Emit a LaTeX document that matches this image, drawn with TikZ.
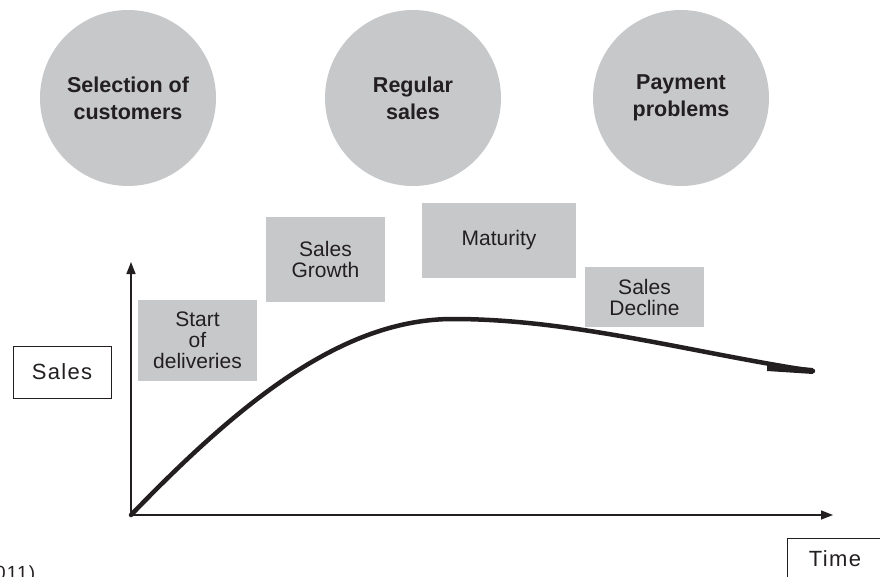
\documentclass[tikz,border=0pt]{standalone}
\usepackage{fontspec}
\setmainfont{Liberation Sans}
\newfontfamily\widefont[LetterSpace=6]{Liberation Sans}
\usetikzlibrary{shapes,arrows,arrows.meta}
\definecolor{phasegray}{RGB}{199,200,202}
\definecolor{inkblack}{RGB}{35,31,32}
\tikzstyle{stage} = [circle, minimum size=176pt, inner sep=0pt, fill=phasegray, text=inkblack, align=center, font=\fontsize{21.5}{27}\selectfont\bfseries]
\tikzstyle{phase} = [rectangle, inner sep=0pt, fill=phasegray, text=inkblack, align=center, font=\fontsize{21}{21}\selectfont]
\tikzstyle{axislabel} = [rectangle, draw=inkblack, line width=1pt, inner sep=0pt, text=inkblack, font=\widefont\fontsize{22}{24}\selectfont]
\tikzstyle{axisline} = [line width=1.5pt, draw=inkblack, -{Triangle[length=12pt,width=9pt]}]
\tikzstyle{salescurve} = [line width=4.5pt, draw=inkblack, line cap=round]

\begin{document}
\begin{tikzpicture}[x=1pt, y=-1pt]
\useasboundingbox (0,0) rectangle (880,577);
\clip (0,0) rectangle (880,577);
% customer relation stages
\node (select) [stage] at (128,98) {Selection of\\customers};
\node (regular) [stage] at (413,98) {Regular\\sales};
\node (payment) [stage] at (681,98) {Payment\\problems};
% life cycle phases
\node (start) [phase, minimum width=119pt, minimum height=81pt] at (197.5,340.5) {Start\\of\\deliveries};
\node (growth) [phase, minimum width=119pt, minimum height=85pt] at (325.5,259.5) {Sales\\Growth};
\node (mature) [phase, minimum width=154pt, minimum height=75pt] at (499,240.5) {Maturity};
\node (decline) [phase, minimum width=119pt, minimum height=60pt] at (644.5,297) {Sales\\Decline};
% axes
\node (sales) [axislabel, minimum width=98pt, minimum height=52pt] at (62,372) {Sales};
\node (time) [axislabel, minimum width=96pt, minimum height=42pt] at (835,559) {Time};
\coordinate (origin) at (131,515);
\coordinate (ytop) at (131,262);
\coordinate (xend) at (833,515);
\coordinate (peak) at (453,319);
\coordinate (tail) at (813,371);
\draw [axisline] (origin) -- (ytop);
\draw [axisline] (origin) -- (xend);
\draw [salescurve] (origin) .. controls (241,401) and (343,319) .. (peak)
                            .. controls (573,319) and (693,353) .. (tail);
\fill [inkblack] (767,364) -- (813,368) -- (813,374) -- (767,371) -- cycle;
\node (source) [anchor=north west, inner sep=0pt, text=inkblack, font=\widefont\fontsize{19}{21}\selectfont] at (-5,566) {011)};
\end{tikzpicture}
\end{document}
